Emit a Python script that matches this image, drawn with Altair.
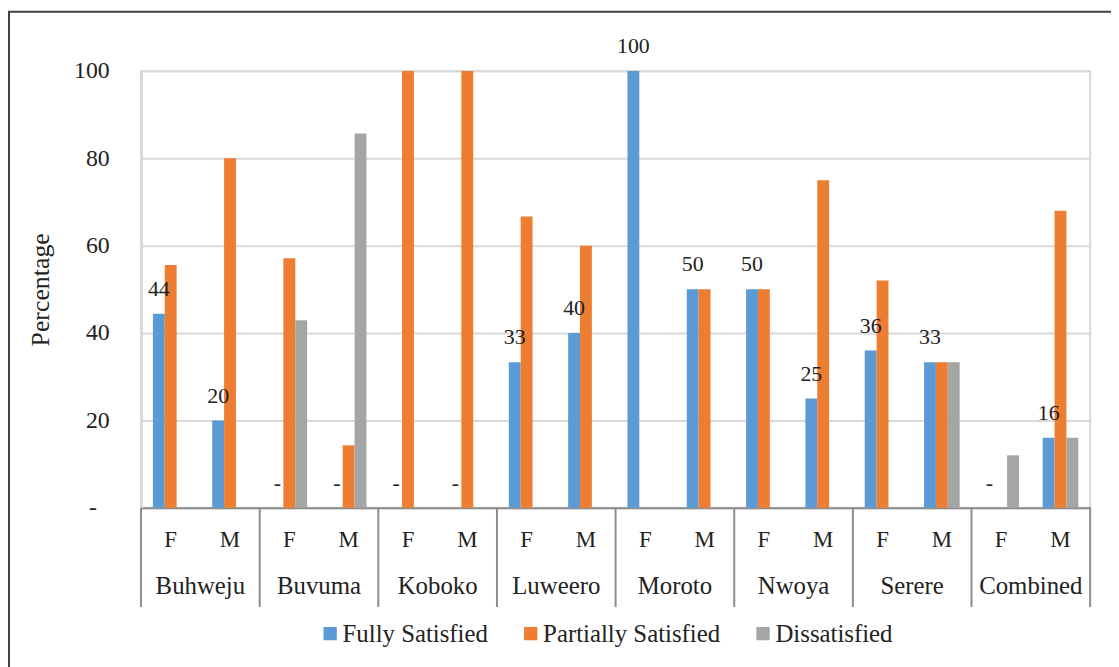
import altair as alt
import pandas as pd

districts = ["Buhweju", "Buvuma", "Koboko", "Luweero", "Moroto", "Nwoya", "Serere", "Combined"]
sexes = ["F", "M"]
series = ["Fully Satisfied", "Partially Satisfied", "Dissatisfied"]

# values per district/sex in order: Buhweju F, Buhweju M, Buvuma F, ...
fully = [44.4, 20, 0, 0, 0, 0, 33.3, 40, 100, 50, 50, 25, 36, 33.3, 0, 16]
partially = [55.6, 80, 57.1, 14.3, 100, 100, 66.7, 60, 0, 50, 50, 75, 52, 33.3, 0, 68]
dissatisfied = [0, 0, 42.9, 85.7, 0, 0, 0, 0, 0, 0, 0, 0, 0, 33.3, 12, 16]
fully_labels = ["44", "20", "-", "-", "-", "-", "33", "40", "100", "50", "50", "25", "36", "33", "-", "16"]

colors = ["#5B9BD5", "#ED7D31", "#A5A5A5"]
FONT = "Liberation Serif"

keys = [f"{d}|{s}" for d in districts for s in sexes]

rows = []
for i, k in enumerate(keys):
    for name, vals in zip(series, [fully, partially, dissatisfied]):
        rows.append({"key": k, "series": name, "value": vals[i]})
bars_df = pd.DataFrame(rows)

labels_df = pd.DataFrame({"key": keys, "value": fully, "label": fully_labels,
                          "series": ["Fully Satisfied"] * len(keys)})
dist_df = pd.DataFrame({"district": districts, "key": [f"{d}|M" for d in districts],
                        "fkey": [f"{d}|F" for d in districts]})
end_df = pd.DataFrame({"key": [keys[-1]]})
frame_df = pd.DataFrame({"a": [0]})

W, H = 956, 440

x_scale = alt.Scale(domain=keys, paddingInner=0, paddingOuter=0)
off_scale = alt.Scale(domain=series, paddingInner=0, paddingOuter=1)
y_scale = alt.Scale(domain=[0, 100], nice=False)

bars = alt.Chart(bars_df).mark_bar().encode(
    x=alt.X("key:N", scale=x_scale, sort=keys,
            axis=alt.Axis(title=None, labelExpr="split(datum.value, '|')[1]",
                          labelAngle=0, ticks=False, labelPadding=21,
                          labelFont=FONT, labelFontSize=23, labelColor="#222222",
                          domainColor="#8c8c8c", domainWidth=2, grid=False)),
    xOffset=alt.XOffset("series:N", scale=off_scale, sort=series),
    y=alt.Y("value:Q", scale=y_scale,
            axis=alt.Axis(title="Percentage", values=[0, 20, 40, 60, 80, 100],
                          labelExpr="datum.value == 0 ? '-' : datum.label",
                          labelPadding={"condition": {"test": "datum.value === 0", "value": 45},
                                        "value": 32},
                          ticks=False, labelFont=FONT, labelFontSize=24,
                          labelColor="#222222", titleFont=FONT, titleFontSize=26,
                          titleFontWeight="normal", titleColor="#222222", titlePadding=20,
                          domainColor="#d9d9d9", domainWidth=3,
                          gridColor="#d9d9d9", gridWidth=2)),
    color=alt.Color("series:N", scale=alt.Scale(domain=series, range=colors), sort=series,
                    legend=alt.Legend(title=None, orient="none", direction="horizontal",
                                      legendX=178, legendY=554, symbolType="square",
                                      symbolSize=180, symbolStrokeWidth=0,
                                      labelFont=FONT, labelFontSize=25, labelColor="#222222",
                                      labelOffset=0, columnPadding=30, labelLimit=300)),
)

labels = alt.Chart(labels_df).mark_text(font=FONT, fontSize=22, color="#222222",
                                        baseline="middle", dy=-25).encode(
    x=alt.X("key:N", scale=x_scale, sort=keys),
    xOffset=alt.XOffset("series:N", scale=off_scale, sort=series),
    y=alt.Y("value:Q", scale=y_scale),
    text="label:N",
)

dist_text = alt.Chart(dist_df).mark_text(font=FONT, fontSize=25, color="#222222",
                                         baseline="middle").encode(
    x=alt.X("key:N", scale=x_scale, sort=keys, bandPosition=0),
    y=alt.value(H + 79),
    text="district:N",
)

seps = alt.Chart(dist_df).mark_rule(color="#8c8c8c", strokeWidth=2).encode(
    x=alt.X("fkey:N", scale=x_scale, sort=keys, bandPosition=0),
    y=alt.value(H),
    y2=alt.value(H + 100),
)

sep_end = alt.Chart(end_df).mark_rule(color="#8c8c8c", strokeWidth=2).encode(
    x=alt.X("key:N", scale=x_scale, sort=keys, bandPosition=1),
    y=alt.value(H),
    y2=alt.value(H + 100),
)

frame_left = alt.Chart(frame_df).mark_rule(color="#404040", strokeWidth=2).encode(
    x=alt.value(-133), y=alt.value(-60), y2=alt.value(H + 200),
)
frame_top = alt.Chart(frame_df).mark_rule(color="#404040", strokeWidth=2).encode(
    x=alt.value(-134), x2=alt.value(W + 40), y=alt.value(-59.5),
)

chart = alt.layer(bars, labels, dist_text, seps, sep_end, frame_left, frame_top).properties(
    width=W, height=H,
    autosize=alt.AutoSizeParams(type="none"),
    padding={"left": 134, "top": 61, "right": 21, "bottom": 158},
).configure(background="white", font=FONT).configure_view(stroke="#d9d9d9", strokeWidth=2)

chart.save("out.html", embed_options={"renderer": "svg", "actions": False})
